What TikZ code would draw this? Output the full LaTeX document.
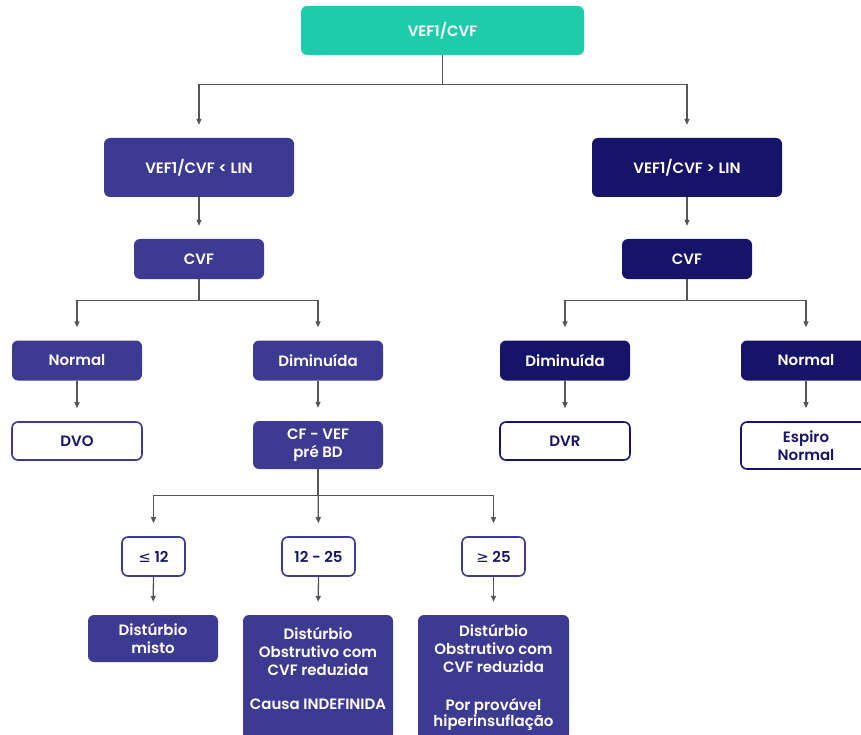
\documentclass[tikz,border=0pt]{standalone}
\usepackage{fontspec}
\setmainfont{Poppins SemiBold}
\newfontfamily\symfont{DejaVu Sans}
\usepackage{xcolor}
\usepackage{tikz}
\usetikzlibrary{arrows.meta,positioning}

\definecolor{tealc}{RGB}{30,204,172}
\definecolor{indigoc}{RGB}{60,58,145}
\definecolor{navyc}{RGB}{22,20,104}
\definecolor{linkc}{RGB}{85,85,85}

\begin{document}
\begin{tikzpicture}[x=1pt, y=-1pt, font=\fontsize{15}{18}\selectfont,
  box/.style={rounded corners=6pt, align=center, inner sep=0pt, text=white},
  tealbox/.style={box, fill=tealc},
  lobox/.style={box, fill=indigoc},
  hibox/.style={box, fill=navyc},
  openbox/.style={box, fill=white, draw=#1, line width=1.6pt, text=navyc},
  openbox/.default=indigoc,
  bigsize/.style={minimum width=190pt, minimum height=59pt},
  midsize/.style={minimum width=130pt, minimum height=40pt},
  link/.style={draw=linkc, line width=1.3pt, -{Triangle[length=6pt,width=5pt]}, shorten >=13pt}]
  \useasboundingbox[fill=white] (0,0) rectangle (861,735);

  % first split
  \node[tealbox, minimum width=283pt, minimum height=49pt] (vef) at (442.5,30.5) {VEF1/CVF};
  \node[lobox, bigsize] (low) at (199,167.5) {VEF1/CVF < LIN};
  \node[hibox, bigsize] (high) at (687,167.5) {VEF1/CVF > LIN};
  \node[lobox, midsize] (cvfL) at (199,259) {CVF};
  \node[hibox, midsize] (cvfR) at (687,259) {CVF};

  % CVF branches
  \node[lobox, midsize] (normL) at (77,360.5) {Normal};
  \node[lobox, midsize] (dimL) at (318,360.5) {Diminuída};
  \node[hibox, midsize] (dimR) at (565,360.5) {Diminuída};
  \node[hibox, midsize] (normR) at (806,360.5) {Normal};
  \node[openbox, minimum width=130pt, minimum height=38pt] (dvo) at (77,441) {DVO};
  \node[lobox, minimum width=130pt, minimum height=48pt] (cfvef) at (318,445) {CF - VEF\\pré BD};
  \node[openbox=navyc, minimum width=130pt, minimum height=38pt] (dvr) at (565,441) {DVR};
  \node[openbox=navyc, minimum width=130pt, minimum height=47pt] (espiro) at (806,445.5) {Espiro\\Normal};

  % CF - VEF ranges
  \node[openbox, minimum width=63pt, minimum height=39pt] (le) at (153.5,556.5) {{\symfont ≤} 12};
  \node[openbox, minimum width=73pt, minimum height=39pt] (mid) at (318.5,556.5) {12 - 25};
  \node[openbox, minimum width=63pt, minimum height=39pt] (ge) at (493.5,556.5) {{\symfont ≥} 25};
  \node[lobox, minimum width=130pt, minimum height=47pt] (misto) at (153,638.5) {Distúrbio\\misto};
  \node[lobox, minimum width=150pt, minimum height=125pt] (indef) at (318,677.5)
    {Distúrbio\\Obstrutivo com\\CVF reduzida\\[16pt]Causa INDEFINIDA\\\mbox{}};
  \node[lobox, minimum width=151pt, minimum height=125pt] (hyper) at (493.5,677.5)
    {Distúrbio\\Obstrutivo com\\CVF reduzida\\[20pt]Por provável\\[-2pt]hiperinsuflação};

  % connectors
  \draw[link] (vef.south) -- ++(0,29) -| (low.north);
  \draw[link] (vef.south) -- ++(0,29) -| (high.north);
  \draw[link] (low.south) -- (cvfL.north);
  \draw[link] (high.south) -- (cvfR.north);
  \draw[link] (cvfL.south) -- ++(0,21) -| (normL.north);
  \draw[link] (cvfL.south) -- ++(0,21) -| (dimL.north);
  \draw[link] (cvfR.south) -- ++(0,21) -| (dimR.north);
  \draw[link] (cvfR.south) -- ++(0,21) -| (normR.north);
  \draw[link] (normL.south) -- (dvo.north);
  \draw[link] (dimL.south) -- (cfvef.north);
  \draw[link] (dimR.south) -- (dvr.north);
  \draw[link] (normR.south) -- (espiro.north);
  \draw[link] (cfvef.south) -- ++(0,26) -| (le.north);
  \draw[link] (cfvef.south) -- (mid.north);
  \draw[link] (cfvef.south) -- ++(0,26) -| (ge.north);
  \draw[link] (le.south) -- (misto.north);
  \draw[link] (mid.south) -- (indef.north);
  \draw[link] (ge.south) -- (hyper.north);
\end{tikzpicture}
\end{document}
